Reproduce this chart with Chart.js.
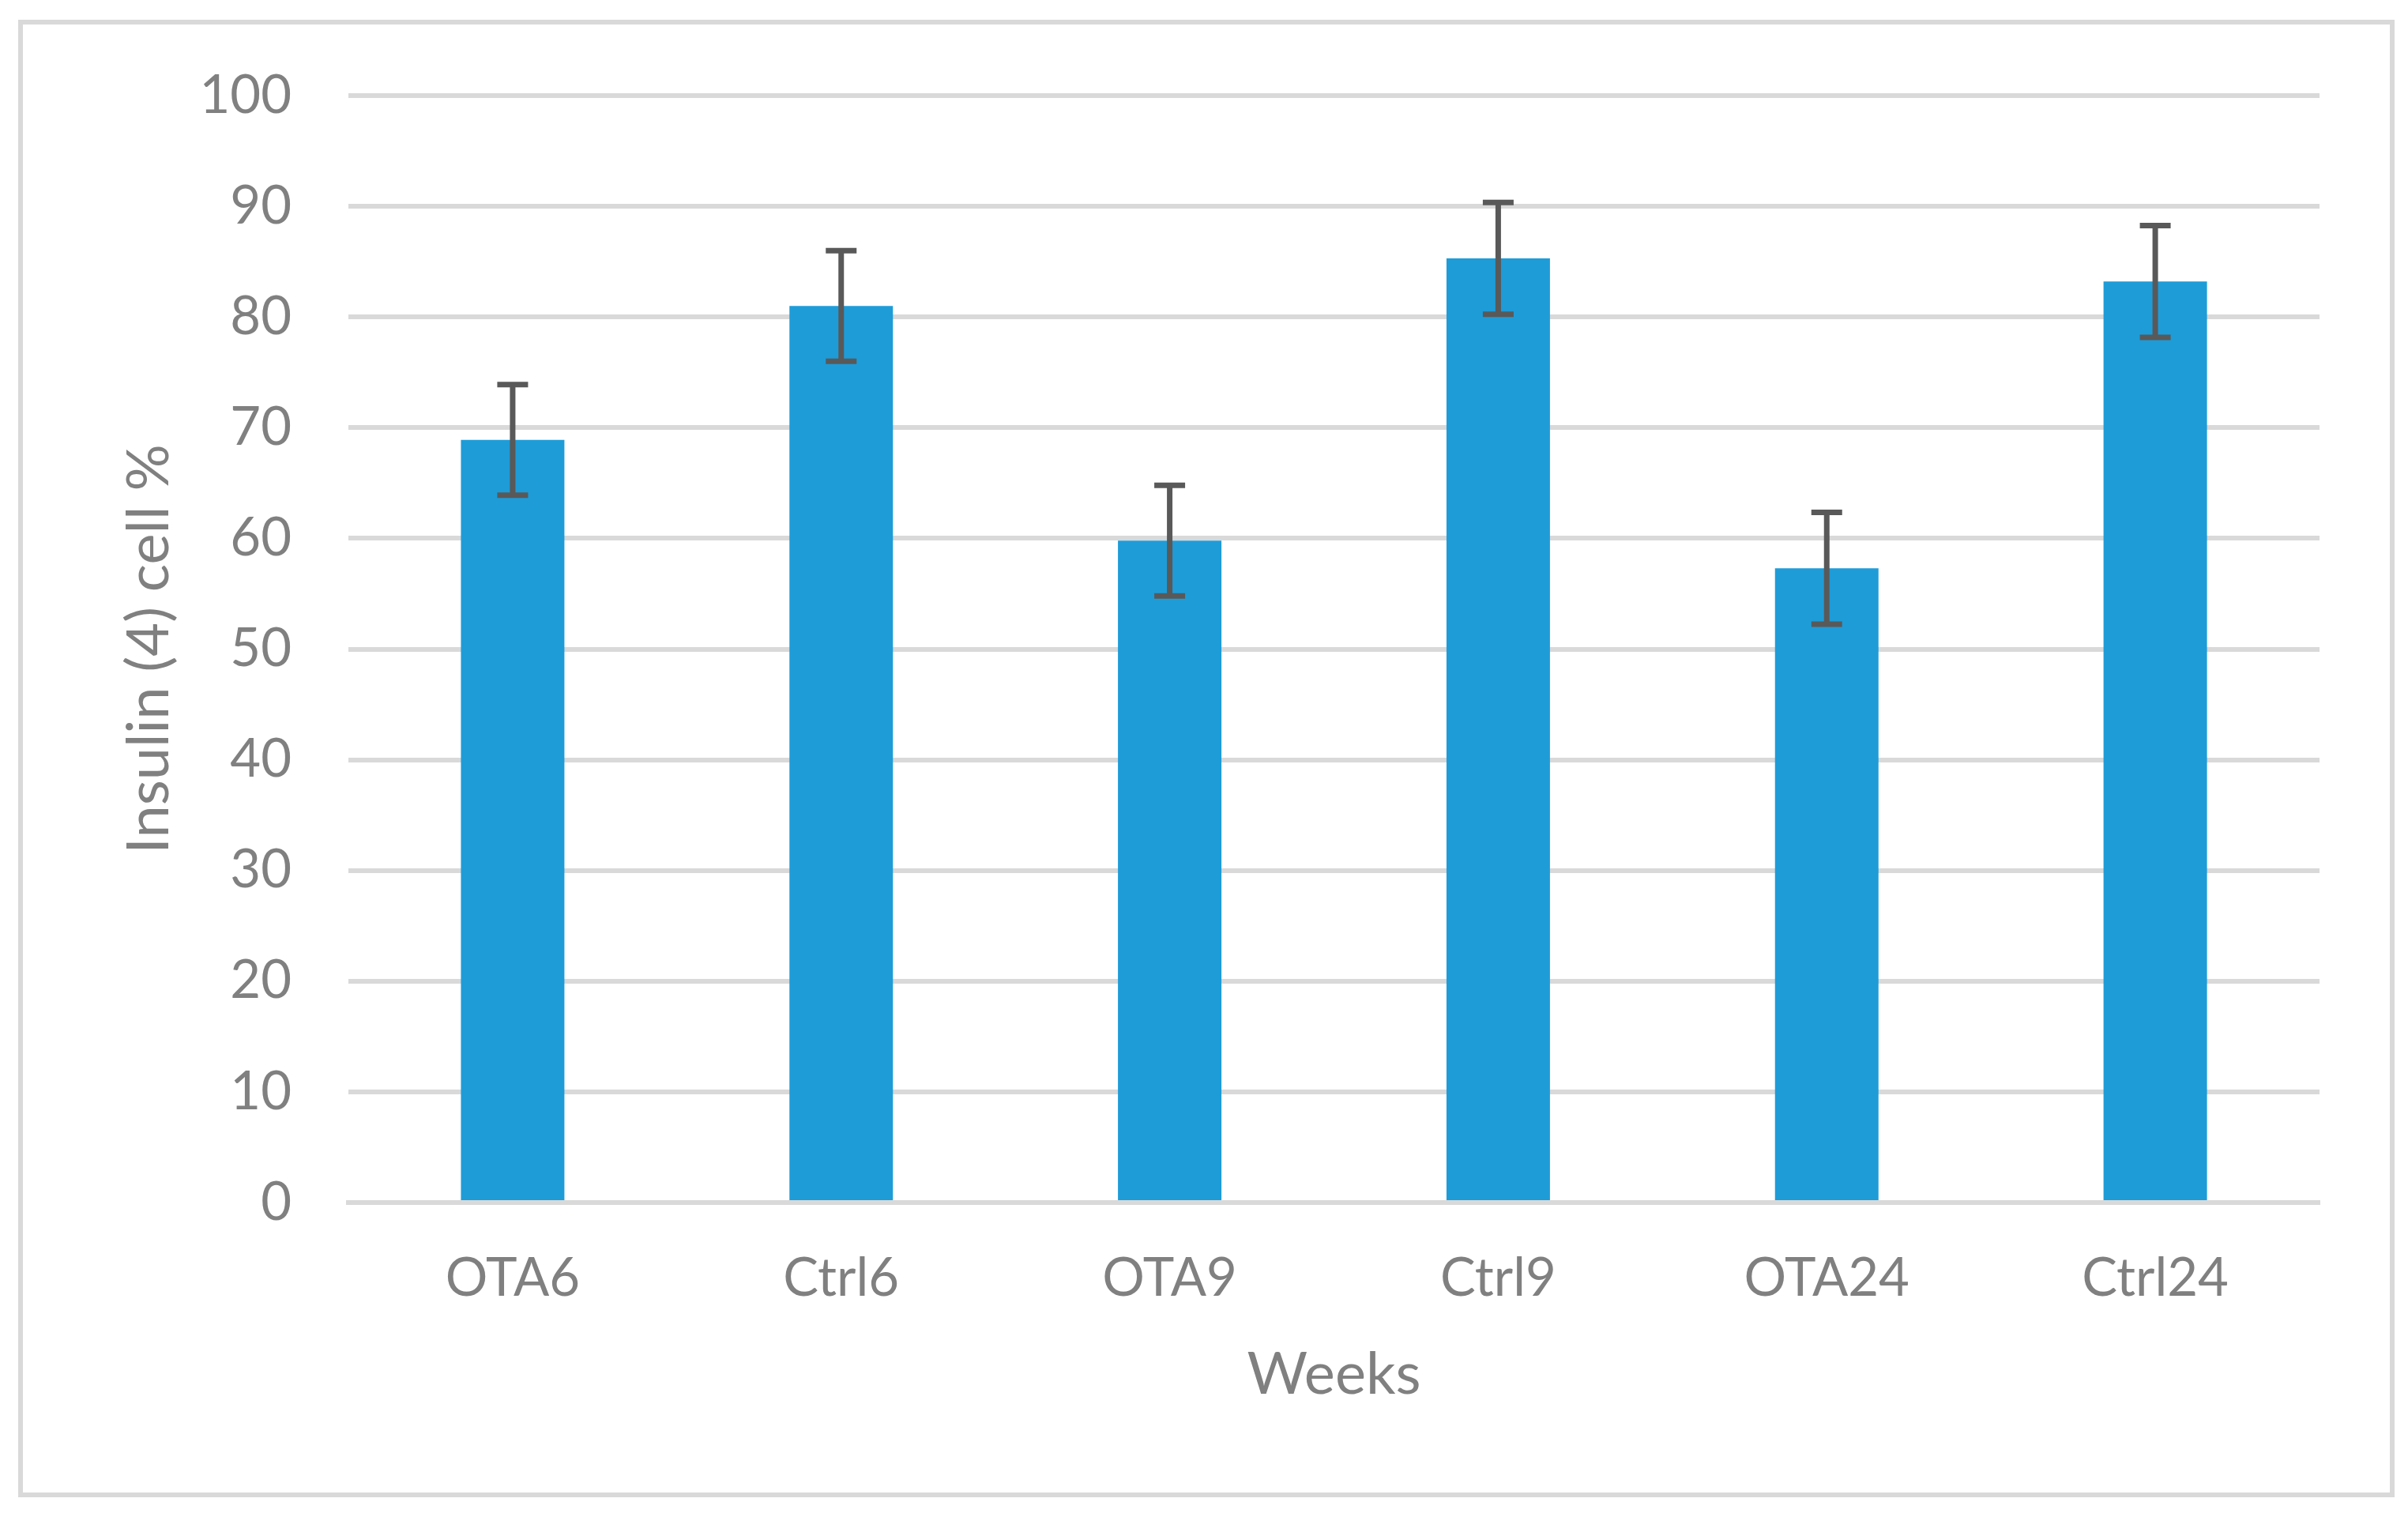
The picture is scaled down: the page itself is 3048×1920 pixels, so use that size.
<!DOCTYPE html>
<html><head><meta charset="utf-8">
<script src="https://cdn.jsdelivr.net/npm/chart.js@4.4.0/dist/chart.umd.min.js"></script>
<style>html,body{margin:0;padding:0;background:#fff;} canvas{display:block;}</style>
</head><body>
<canvas id="c" width="3048" height="1920"></canvas>
<script>
const categories = ['OTA6', 'Ctrl6', 'OTA9', 'Ctrl9', 'OTA24', 'Ctrl24'];
const values = [68.9, 81.0, 59.8, 85.3, 57.3, 83.2];
const errors = [5.0, 5.0, 5.0, 5.05, 5.05, 5.05];
const yTicks = [0, 10, 20, 30, 40, 50, 60, 70, 80, 90, 100];
const xTitle = 'Weeks';
const yTitle = 'Insulin (4) cell %';

const FONT = 'Lato';
const GRAY = '#808080';

const frame = {
  id: 'frame',
  beforeDraw(chart) {
    const ctx = chart.ctx;
    ctx.save();
    ctx.fillStyle = '#ffffff';
    ctx.fillRect(0, 0, chart.width, chart.height);
    ctx.strokeStyle = '#d9d9d9';
    ctx.lineWidth = 6;
    ctx.strokeRect(26, 28, 3002, 1864);
    ctx.restore();
  }
};

const errorBars = {
  id: 'errorBars',
  afterDatasetsDraw(chart) {
    const ctx = chart.ctx;
    const y = chart.scales.y;
    const meta = chart.getDatasetMeta(0);
    ctx.save();
    ctx.strokeStyle = '#595959';
    ctx.lineWidth = 7;
    ctx.lineCap = 'butt';
    meta.data.forEach((bar, i) => {
      const x = bar.x;
      const top = y.getPixelForValue(values[i] + errors[i]);
      const bot = y.getPixelForValue(values[i] - errors[i]);
      const half = 19.5;
      ctx.beginPath();
      ctx.moveTo(x, top); ctx.lineTo(x, bot);
      ctx.moveTo(x - half, top); ctx.lineTo(x + half, top);
      ctx.moveTo(x - half, bot); ctx.lineTo(x + half, bot);
      ctx.stroke();
    });
    ctx.restore();
  }
};

new Chart(document.getElementById('c'), {
  type: 'bar',
  data: {
    labels: categories,
    datasets: [{
      data: values,
      backgroundColor: '#1E9CD8',
      borderWidth: 0,
      barPercentage: 0.315,
      categoryPercentage: 1.0
    }]
  },
  options: {
    responsive: false,
    devicePixelRatio: 1,
    animation: false,
    layout: { padding: { left: 60, right: 112, top: 121, bottom: 0 } },
    plugins: { legend: { display: false }, tooltip: { enabled: false } },
    scales: {
      x: {
        z: 1,
        grid: { display: false, drawTicks: false },
        border: { display: true, color: '#d9d9d9', width: 6 },
        ticks: { color: GRAY, font: { family: FONT, size: 67 }, padding: 56 },
        title: { display: true, text: xTitle, color: GRAY, font: { family: FONT, size: 74 }, padding: { top: 0, bottom: 135 } },
        afterFit(scale) { scale.height = 398; }
      },
      y: {
        min: 0, max: 100,
        afterBuildTicks(scale) { scale.ticks = yTicks.map(v => ({ value: v })); },
        grid: { color: '#d9d9d9', lineWidth: 6, drawTicks: false },
        border: { display: false },
        ticks: { color: GRAY, font: { family: FONT, size: 67 }, padding: 72 },
        title: { display: true, text: yTitle, color: GRAY, font: { family: FONT, size: 74 }, padding: { top: 85, bottom: 0 } },
        afterFit(scale) { scale.width = 381; }
      }
    }
  },
  plugins: [frame, errorBars]
});
</script>
</body></html>
